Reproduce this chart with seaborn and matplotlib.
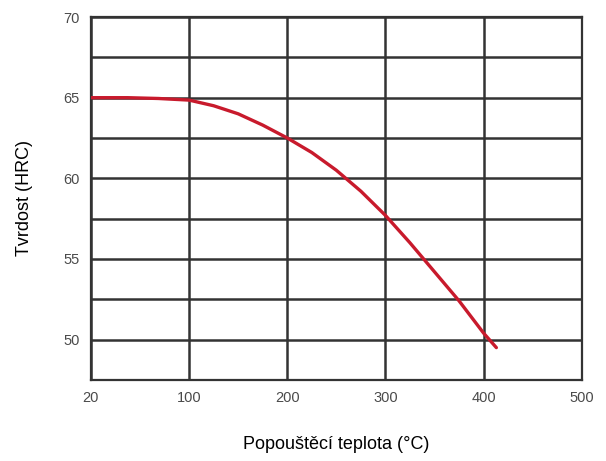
import numpy as np
import pandas as pd
import matplotlib
matplotlib.use("Agg")
import matplotlib.pyplot as plt
import seaborn as sn

# hodnoty
teplota = [20, 50, 75, 100, 125, 150, 175, 200, 225, 250, 275, 300, 325, 350, 375, 400, 413]
tvrdost = [65.0, 65.0, 64.95, 64.85, 64.5, 64.0, 63.3, 62.5, 61.6, 60.5, 59.2, 57.7, 56.0, 54.2, 52.4, 50.4, 49.5]

x_ticks = [20, 100, 200, 300, 400, 500]
y_ticks = [50, 55, 60, 65, 70]
y_grid = [47.5, 50, 52.5, 55, 57.5, 60, 62.5, 65, 67.5, 70]


# osa x: interval 20-100 ma stejnou delku jako ostatni stovky
def fwd(x):
    x = np.asarray(x, dtype=float)
    return np.where(x < 100, (x - 20) / 80, x / 100)


def inv(u):
    u = np.asarray(u, dtype=float)
    return np.where(u < 1, u * 80 + 20, u * 100)


def main():
    sn.set_style("white")
    plt.rcParams['font.family'] = ['Liberation Sans', 'DejaVu Sans']

    df = pd.DataFrame({"teplota": teplota, "tvrdost": tvrdost})

    fig = plt.figure(figsize=(6.06, 4.61), dpi=100)
    ax = fig.add_axes([0.150, 0.176, 0.810, 0.787])
    ax.set_xscale("function", functions=(fwd, inv))

    sn.lineplot(data=df, x="teplota", y="tvrdost", ax=ax, color="#c81a2c",
                linewidth=2.4, zorder=3)

    ax.set_xlim(20, 500)
    ax.set_ylim(47.5, 70)
    ax.set_xticks(x_ticks)
    ax.set_xticklabels([str(t) for t in x_ticks])
    ax.set_yticks(y_ticks)
    ax.set_yticks(y_grid, minor=True)
    ax.xaxis.set_minor_locator(matplotlib.ticker.NullLocator())

    #mrizka
    ax.grid(True, which="major", axis="x", color="#333333", linewidth=1.8)
    ax.grid(True, which="both", axis="y", color="#333333", linewidth=1.8)
    for s in ax.spines.values():
        s.set_color("#333333")
        s.set_linewidth(1.6)

    ax.tick_params(axis="both", which="both", length=0, labelsize=10.5,
                   labelcolor="#4a4a4a", pad=8)
    ax.set_xlabel("Popouštěcí teplota (°C)", fontsize=13, labelpad=22, color="black")
    ax.set_ylabel("Tvrdost (HRC)", fontsize=13, labelpad=22, color="black")

    fig.savefig("out.png", dpi=100)


if __name__ == "__main__":
    main()
